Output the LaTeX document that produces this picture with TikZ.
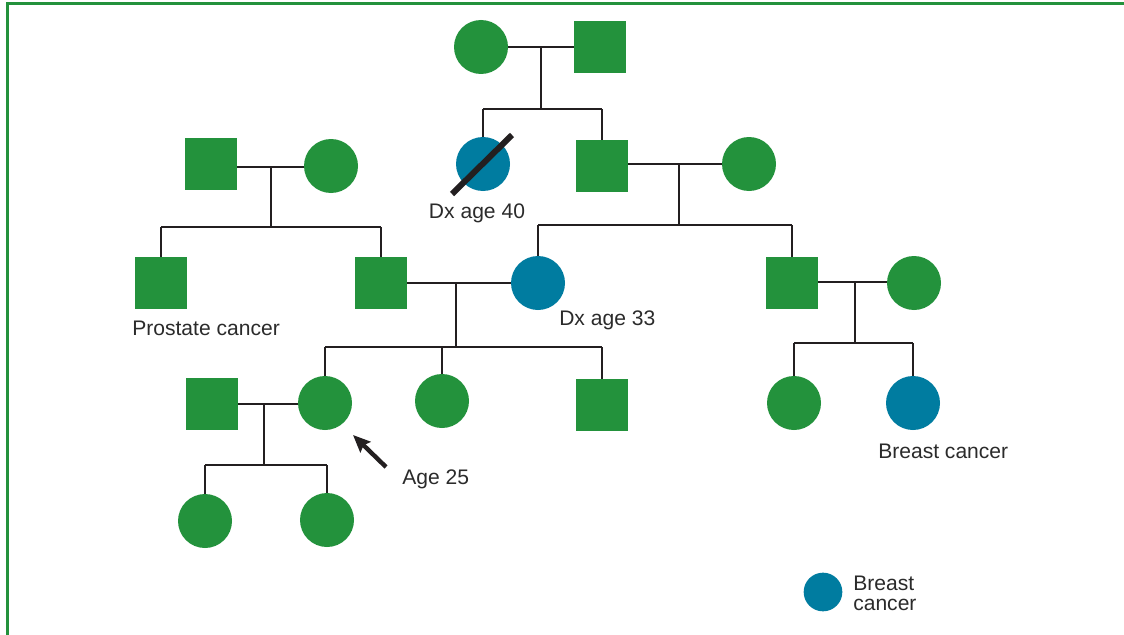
\documentclass[tikz,border=0pt]{standalone}
\usepackage{fontspec}
\setmainfont{Liberation Sans}
\usetikzlibrary{arrows.meta}
\definecolor{pgreen}{RGB}{35,146,60}
\definecolor{pblue}{RGB}{0,124,160}
\definecolor{pline}{RGB}{35,31,32}
\definecolor{ptext}{RGB}{43,43,43}
\begin{document}
\begin{tikzpicture}[x=0.75pt,y=-0.75pt,
  male/.style={rectangle,fill=pgreen,minimum size=39pt,inner sep=0pt},
  female/.style={circle,fill=pgreen,minimum size=40.5pt,inner sep=0pt},
  affected/.style={circle,fill=pblue,minimum size=40.5pt,inner sep=0pt},
  conn/.style={draw=pline,line width=1.85pt},
  lbl/.style={text=ptext,font=\fontsize{15.8}{15}\selectfont,inner sep=0pt}]
\useasboundingbox (0,0) rectangle (1124,635);
\fill[white] (0,0) rectangle (1124,635);
\draw[pgreen,line width=2.25pt] (7,635) -- (7,3.5) -- (1124,3.5);

% Generation I
\node[female] (g1f) at (481,47) {};
\node[male] (g1m) at (600,47) {};
% Generation II
\node[affected] (g2a) at (483,164) {};
\node[male] (g2b) at (602,166) {};
\node[female] (g2c) at (749,164) {};
\node[male] (g2l) at (211,164) {};
\node[female] (g2lw) at (331,166) {};
% Generation III
\node[male] (g3a) at (161,283) {};
\node[male] (g3b) at (381,283) {};
\node[affected] (g3c) at (538,283) {};
\node[male] (g3d) at (792,283) {};
\node[female] (g3e) at (914,283) {};
% Generation IV
\node[male] (g4a) at (212,404) {};
\node[female] (g4b) at (325,403) {};
\node[female] (g4c) at (442,401) {};
\node[male] (g4d) at (602,405) {};
\node[female] (g4e) at (794,403) {};
\node[affected] (g4f) at (913,403) {};
% Generation V
\node[female] (g5a) at (205,521) {};
\node[female] (g5b) at (327,520) {};
% Legend
\node[circle,fill=pblue,minimum size=29pt,inner sep=0pt] (leg) at (823,592) {};

% Deceased slash
\draw[pline,line width=4.5pt] (452,194) -- (512,135);

% Couple I
\draw[conn] (g1f.east) -- (g1m.west);
\coordinate (s1) at (541,109);
\draw[conn] (541,47) -- (s1);
\draw[conn] (g2a.north |- s1) -- (g2b.north |- s1);
\draw[conn] (g2a.north |- s1) -- (g2a.north);
\draw[conn] (g2b.north |- s1) -- (g2b.north);

% Couple II left
\draw[conn] (g2l.east |- 0,167) -- (g2lw.west |- 0,167);
\coordinate (s2) at (271,227);
\draw[conn] (271,167) -- (s2);
\draw[conn] (g3a.north |- s2) -- (g3b.north |- s2);
\draw[conn] (g3a.north |- s2) -- (g3a.north);
\draw[conn] (g3b.north |- s2) -- (g3b.north);

% Couple II right
\draw[conn] (g2b.east |- g2c) -- (g2c.west);
\coordinate (s3) at (679,225);
\draw[conn] (679,164) -- (s3);
\draw[conn] (g3c.north |- s3) -- (g3d.north |- s3);
\draw[conn] (g3c.north |- s3) -- (g3c.north);
\draw[conn] (g3d.north |- s3) -- (g3d.north);

% Couple III left
\draw[conn] (g3b.east) -- (g3c.west);
\coordinate (s4) at (456,347);
\draw[conn] (456,283) -- (s4);
\draw[conn] (g4b.north |- s4) -- (g4d.north |- s4);
\draw[conn] (g4b.north |- s4) -- (g4b.north);
\draw[conn] (g4c.north |- s4) -- (g4c.north);
\draw[conn] (g4d.north |- s4) -- (g4d.north);

% Couple III right
\draw[conn] (g3d.east |- 0,282) -- (g3e.west |- 0,282);
\coordinate (s5) at (855,343);
\draw[conn] (855,282) -- (s5);
\draw[conn] (g4e.north |- s5) -- (g4f.north |- s5);
\draw[conn] (g4e.north |- s5) -- (g4e.north);
\draw[conn] (g4f.north |- s5) -- (g4f.north);

% Couple IV
\draw[conn] (g4a.east) -- (g4b.west |- g4a);
\coordinate (s6) at (264,465);
\draw[conn] (264,404) -- (s6);
\draw[conn] (g5a.north |- s6) -- (g5b.north |- s6);
\draw[conn] (g5a.north |- s6) -- (g5a.north);
\draw[conn] (g5b.north |- s6) -- (g5b.north);

% Labels
\node[lbl] (t1) at (477,213) {Dx age 40};
\node[lbl,anchor=west] (t2) at (132,328) {Prostate cancer};
\node[lbl,anchor=west] (t3) at (559,320) {Dx age 33};
\node[lbl,anchor=west] (t4) at (402,479) {Age 25};
\node[lbl,anchor=west] (t5) at (878,451) {Breast cancer};
\node[lbl,anchor=west,align=left] (t6) at (853,593) {Breast\\cancer};

% Proband arrow
\coordinate (a1) at (386,467);
\coordinate (a2) at (353,435);
\draw[pline,line width=3.3pt,-{Stealth[length=13pt,width=11pt,inset=2pt]}] (a1) -- (a2);
\end{tikzpicture}
\end{document}
